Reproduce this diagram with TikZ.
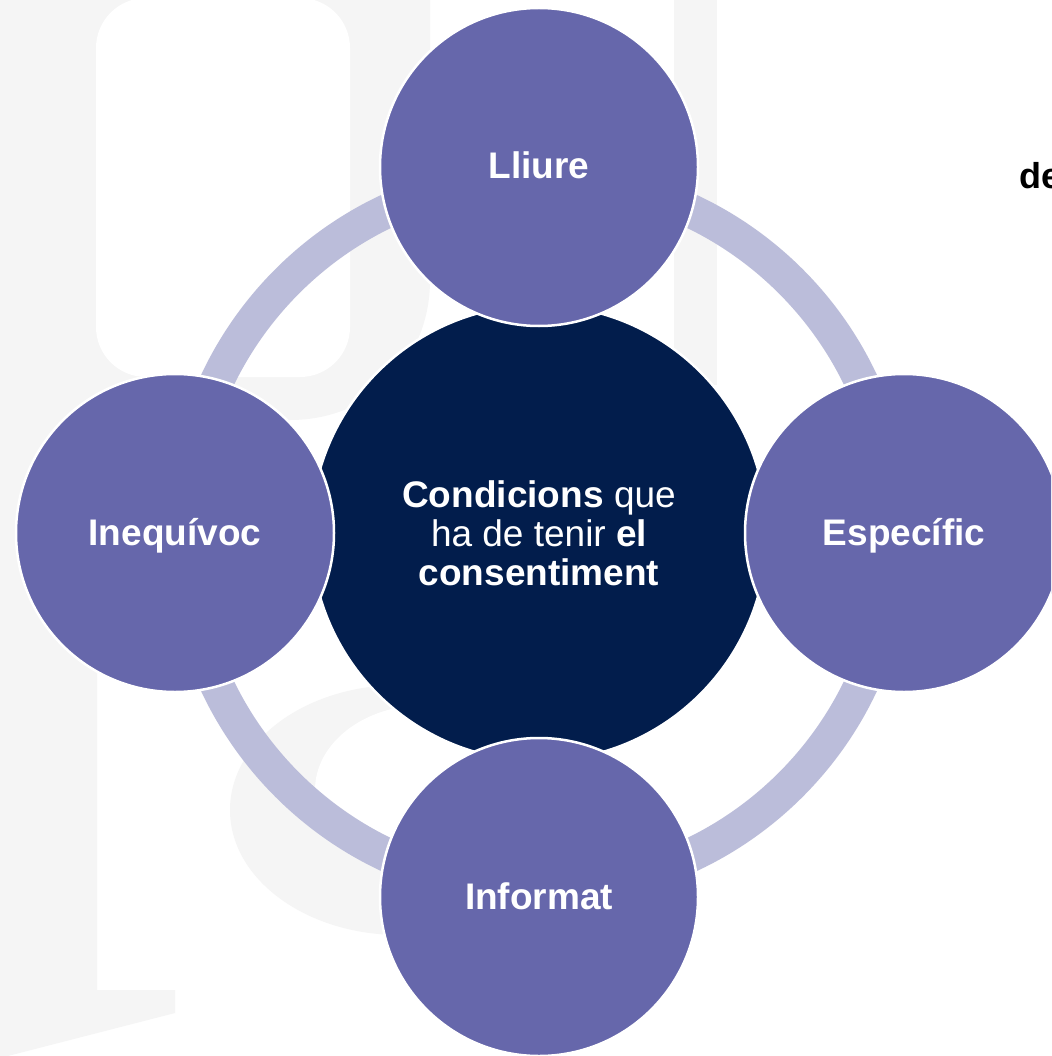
\documentclass[tikz,border=0pt]{standalone}
\usepackage{fontspec}
\setmainfont{Liberation Sans}
\definecolor{outerc}{HTML}{6667AB}
\definecolor{centerc}{HTML}{021D4C}
\definecolor{ringc}{HTML}{BBBDDA}
\definecolor{wmc}{HTML}{F5F5F5}
\tikzset{
  outerbub/.style={circle, fill=outerc, draw=white, line width=2.5pt,
    minimum size=318pt, inner sep=0pt, text=white,
    font=\fontsize{37}{39}\selectfont\bfseries, text height=24pt, text depth=0pt},
  corebub/.style={circle, fill=centerc, draw=white, line width=2.5pt,
    minimum size=456pt, inner sep=0pt, text=white,
    font=\fontsize{37}{39}\selectfont, align=center},
  wm/.style={fill=wmc},
  ringline/.style={draw=ringc, line width=34pt}
}
\begin{document}
\begin{tikzpicture}[x=1pt,y=-1pt]
\fill[white] (0,0) rectangle (1051,1056);
\useasboundingbox (0,0) rectangle (1051,1056);
\clip (0,0) rectangle (1051,1056);
% faint watermark
\fill[wm] (0,0) -- (97,0) -- (97,990) -- (175,990) -- (175,1013) -- (0,1058) -- cycle;
\fill[wm] (97,0) -- (430,0) -- (430,280) .. controls (430,360) and (370,420) .. (290,420) -- (97,420) -- cycle;
\fill[white, rounded corners=50pt] (96,-2) rectangle (350,377);
\fill[wm] (674,0) rectangle (717,385);
\fill[wm] (400,810) ellipse[x radius=170pt, y radius=125pt];
\fill[white] (425,790) ellipse[x radius=110pt, y radius=85pt];
% ring
\coordinate (c) at (539,533);
\draw[ringline] (c) circle[radius=356pt];
% circles
\node[corebub] (core) at (c) {\textbf{Condicions} que\\ha de tenir \textbf{el}\\\textbf{consentiment}};
\node[outerbub] (lliure) at (539,167) {Lliure};
\node[outerbub] (inequivoc) at (175,533) {Inequívoc};
\node[outerbub] (especific) at (904,533) {Específic};
\node[outerbub] (informat) at (539,897) {Informat};
\node[anchor=base west, inner sep=0pt, text=black,
  font=\fontsize{36}{38}\selectfont\bfseries] (de) at (1019,189) {de};
\end{tikzpicture}
\end{document}
